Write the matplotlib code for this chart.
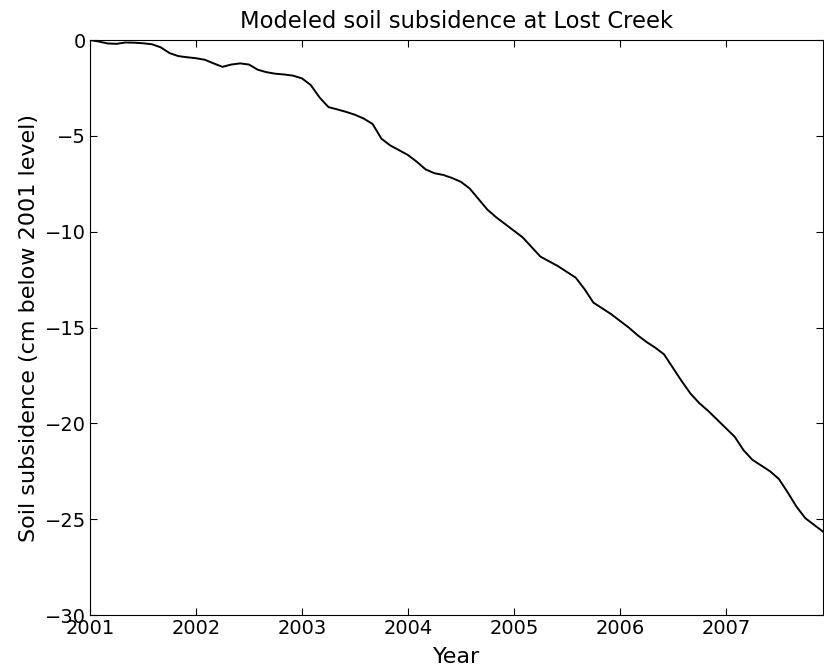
import matplotlib
matplotlib.use('Agg')
import matplotlib.pyplot as plt
import numpy as np

# Subsidence modelada mensal, jan/2001 - dez/2007 (cm abaixo do nível de 2001)
inicio = 2001
subsidencia = [
    0.0, -0.08, -0.18, -0.2, -0.13, -0.14, -0.17, -0.22, -0.38, -0.68, -0.84, -0.9,
    -0.95, -1.03, -1.22, -1.4, -1.28, -1.22, -1.28, -1.55, -1.68, -1.76, -1.8, -1.86,
    -2.0, -2.35, -3.0, -3.5, -3.62, -3.75, -3.9, -4.1, -4.38, -5.15, -5.5, -5.75,
    -6.0, -6.35, -6.75, -6.95, -7.04, -7.2, -7.4, -7.75, -8.3, -8.85, -9.25, -9.6,
    -9.95, -10.3, -10.8, -11.3, -11.55, -11.8, -12.1, -12.4, -13.0, -13.7, -14.0, -14.3,
    -14.65, -15.0, -15.4, -15.75, -16.05, -16.4, -17.1, -17.8, -18.45, -18.95, -19.35, -19.8,
    -20.25, -20.7, -21.4, -21.9, -22.2, -22.5, -22.9, -23.6, -24.35, -24.95, -25.3, -25.65,
]
anos = inicio + np.arange(len(subsidencia)) / 12.0
anos_ticks = list(range(2001, 2008))

plt.rcParams['xtick.direction'] = 'in'
plt.rcParams['ytick.direction'] = 'in'
plt.rcParams['xtick.top'] = True
plt.rcParams['ytick.right'] = True
plt.rcParams['xtick.major.size'] = 5
plt.rcParams['ytick.major.size'] = 5

fig = plt.figure(figsize=(8.24, 6.69), dpi=100)
ax = fig.add_axes([0.1092, 0.0807, 0.8896, 0.8595])

ax.plot(anos, subsidencia, color='black', linewidth=1.4)

ax.set_xlim(inicio, anos[-1])
ax.set_ylim(-30, 0)
ax.set_xticks(anos_ticks)
ax.set_xticklabels([str(a) for a in anos_ticks])
ax.set_yticks(range(-30, 1, 5))
ax.tick_params(labelsize=14, pad=3)

ax.set_title("Modeled soil subsidence at Lost Creek", fontsize=16.3, pad=9)
ax.set_xlabel("Year", fontsize=16, labelpad=6)
ax.set_ylabel("Soil subsidence (cm below 2001 level)", fontsize=16, labelpad=4)

plt.savefig('out.png', dpi=100)
